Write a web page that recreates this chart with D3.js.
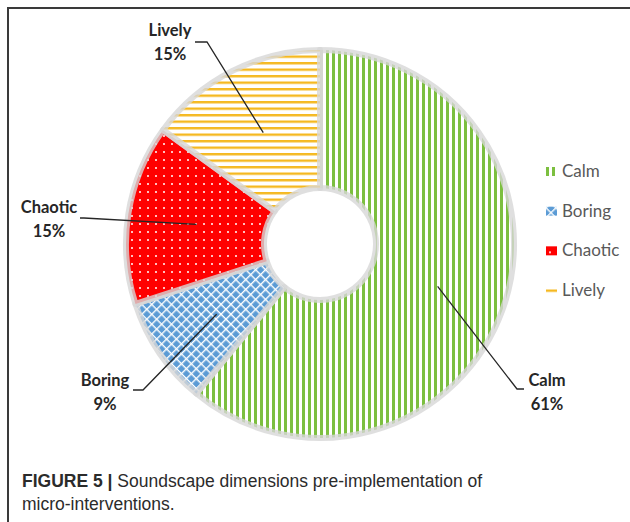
<!DOCTYPE html>
<html>
<head>
<meta charset="utf-8">
<script src="https://cdn.jsdelivr.net/npm/d3@7"></script>
<style>
  body { margin: 0; background: #fff; }
  svg { display: block; }
</style>
</head>
<body>
<div id="container"></div>
<script>
// data
var categories = ["Calm", "Boring", "Chaotic", "Lively"];
var values = [61, 9, 15, 15];
var percentLabels = ["61%", "9%", "15%", "15%"];
var captionBold = "FIGURE 5 |";
var captionLine1 = " Soundscape dimensions pre-implementation of";
var captionLine2 = "micro-interventions.";

const width = 630;
const height = 522;
const cx = 320, cy = 244;
const outerR = 194, innerR = 56;

const svg = d3.select("#container").append("svg")
    .attr("width", width)
    .attr("height", height);

//----------------------------PATTERNS--------------------------//
const defs = svg.append("defs");

const pCalm = defs.append("pattern").attr("id", "p-calm")
    .attr("patternUnits", "userSpaceOnUse").attr("width", 6).attr("height", 6);
pCalm.append("rect").attr("width", 6).attr("height", 6).attr("fill", "#fff");
pCalm.append("rect").attr("width", 3).attr("height", 6).attr("fill", "#7cbf3f");

const pBoring = defs.append("pattern").attr("id", "p-boring")
    .attr("patternUnits", "userSpaceOnUse").attr("width", 7).attr("height", 7)
    .attr("patternTransform", "rotate(45)");
pBoring.append("rect").attr("width", 7).attr("height", 7).attr("fill", "#5b9bd5");
pBoring.append("rect").attr("width", 1.4).attr("height", 7).attr("fill", "#fff");
pBoring.append("rect").attr("width", 7).attr("height", 1.4).attr("fill", "#fff");

const pChaotic = defs.append("pattern").attr("id", "p-chaotic")
    .attr("patternUnits", "userSpaceOnUse").attr("width", 8).attr("height", 8);
pChaotic.append("rect").attr("width", 8).attr("height", 8).attr("fill", "#ff0000");
pChaotic.append("circle").attr("cx", 4).attr("cy", 4).attr("r", 1).attr("fill", "#fff");

const pLively = defs.append("pattern").attr("id", "p-lively")
    .attr("patternUnits", "userSpaceOnUse").attr("width", 6).attr("height", 6.5);
pLively.append("rect").attr("width", 6).attr("height", 6.5).attr("fill", "#fff");
pLively.append("rect").attr("width", 6).attr("height", 2.4).attr("fill", "#f5b921");

const fills = d3.scaleOrdinal()
    .domain(categories)
    .range(["url(#p-calm)", "url(#p-boring)", "url(#p-chaotic)", "url(#p-lively)"]);

//-----------------------------FRAME----------------------------//
svg.append("path")
    .attr("d", "M8," + height + " L8,8 L" + width + ",8")
    .attr("fill", "none")
    .attr("stroke", "#3a3a3a")
    .attr("stroke-width", 2);

//-----------------------------PIE------------------------------//
const pie = d3.pie().sort(null).value(function(d) { return d.value; });
const slices = pie(categories.map(function(c, i) {
    return {name: c, value: values[i], label: percentLabels[i]};
}));

const arc = d3.arc().innerRadius(innerR).outerRadius(outerR);
const labelArc = d3.arc().innerRadius(125).outerRadius(125);

const g = svg.append("g").attr("transform", "translate(" + cx + "," + cy + ")");

g.selectAll("path.slice")
    .data(slices)
    .enter()
    .append("path")
    .attr("class", "slice")
    .attr("d", arc)
    .attr("fill", function(d) { return fills(d.data.name); })
    .attr("stroke", "rgba(215,215,215,0.8)")
    .attr("stroke-width", 6)
    .attr("stroke-linejoin", "round");

//----------------------------LABELS----------------------------//
// elbow of each leader line and where the label block sits (relative to chart centre)
const labelLayout = {
    Calm:    {elbow: [197, 145], end: [204, 145], tx: 227, ty: 142},
    Boring:  {elbow: [-177, 146], end: [-187, 146], tx: -215, ty: 142},
    Chaotic: {elbow: [-236, -26], end: [-240, -26], tx: -271, ty: -31},
    Lively:  {elbow: [-113, -202], end: [-125, -202], tx: -150, ty: -208}
};

const labels = g.selectAll("g.lbl")
    .data(slices)
    .enter()
    .append("g")
    .attr("class", "lbl");

labels.append("polyline")
    .attr("points", function(d) {
        const L = labelLayout[d.data.name];
        const c = labelArc.centroid(d);
        return [c, L.elbow, L.end].map(function(p) { return p.join(","); }).join(" ");
    })
    .attr("fill", "none")
    .attr("stroke", "#262626")
    .attr("stroke-width", 1.3);

labels.append("text")
    .attr("x", function(d) { return labelLayout[d.data.name].tx; })
    .attr("y", function(d) { return labelLayout[d.data.name].ty; })
    .attr("text-anchor", "middle")
    .style("font-family", "Lato, 'Open Sans', sans-serif")
    .style("font-weight", "bold")
    .style("font-size", "16.5px")
    .attr("fill", "#262626")
    .text(function(d) { return d.data.name; });

labels.append("text")
    .attr("x", function(d) { return labelLayout[d.data.name].tx; })
    .attr("y", function(d) { return labelLayout[d.data.name].ty + 24; })
    .attr("text-anchor", "middle")
    .style("font-family", "Lato, 'Open Sans', sans-serif")
    .style("font-weight", "bold")
    .style("font-size", "16.5px")
    .attr("fill", "#262626")
    .text(function(d) { return d.data.label; });

//----------------------------LEGEND----------------------------//
const legendY = d3.scalePoint().domain(categories).range([177, 296]);

const legend = svg.selectAll("g.legend")
    .data(categories)
    .enter()
    .append("g")
    .attr("class", "legend")
    .attr("transform", function(d) { return "translate(546," + legendY(d) + ")"; });

legend.append("rect")
    .attr("x", 0)
    .attr("y", -10)
    .attr("width", 11)
    .attr("height", 9)
    .attr("fill", function(d) { return fills(d); });

legend.append("text")
    .attr("x", 16)
    .attr("y", 0)
    .style("font-family", "Lato, 'Open Sans', sans-serif")
    .style("font-size", "17px")
    .attr("fill", "#595959")
    .text(function(d) { return d; });

//----------------------------CAPTION---------------------------//
const cap = svg.append("text")
    .attr("x", 22)
    .attr("y", 487)
    .style("font-family", "'Liberation Sans', Arial, sans-serif")
    .style("font-size", "17.5px")
    .attr("fill", "#2b2b2b");
cap.append("tspan").style("font-weight", "bold").text(captionBold);
cap.append("tspan").text(captionLine1);

svg.append("text")
    .attr("x", 22)
    .attr("y", 510)
    .style("font-family", "'Liberation Sans', Arial, sans-serif")
    .style("font-size", "17.5px")
    .attr("fill", "#2b2b2b")
    .text(captionLine2);
</script>
</body>
</html>
